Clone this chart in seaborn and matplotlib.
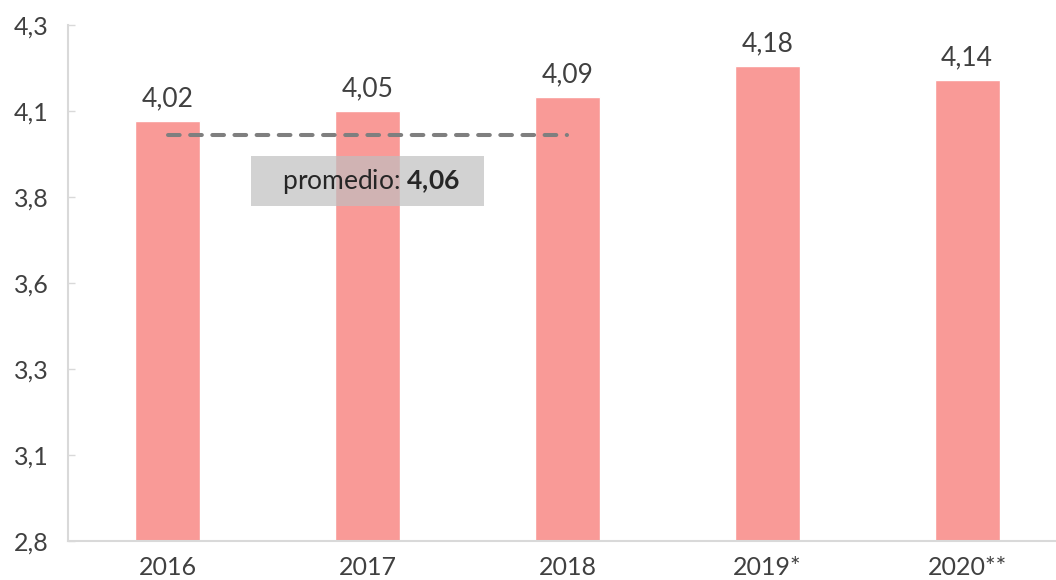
import numpy as np
import pandas as pd
import seaborn as sns
import matplotlib.pyplot as plt

# data
years = ["2016", "2017", "2018", "2019*", "2020**"]
values = [4.02, 4.05, 4.09, 4.18, 4.14]
value_labels = ["4,02", "4,05", "4,09", "4,18", "4,14"]
ytick_values = [2.8, 3.05, 3.3, 3.55, 3.8, 4.05, 4.3]
ytick_labels = ["2,8", "3,1", "3,3", "3,6", "3,8", "4,1", "4,3"]
avg_span = ["2016", "2018"]
avg_level = 3.98
avg_text = "4,06"

sns.set_theme(style="white")
plt.rcParams['font.family'] = ['Lato', 'DejaVu Sans']
plt.rcParams['mathtext.fontset'] = 'custom'
plt.rcParams['mathtext.rm'] = 'Lato'
plt.rcParams['mathtext.bf'] = 'Lato:bold'

text_color = "#404040"
bar_color = "#F99A97"
spine_color = "#d9d9d9"

df = pd.DataFrame({"year": years, "value": values})

fig = plt.figure(figsize=(10.56, 5.8), dpi=100)
ax = fig.add_axes([0.0644, 0.0672, 0.9356, 0.8898])

sns.barplot(data=df, x="year", y="value", color=bar_color, saturation=1,
            width=0.325, ax=ax)

ax.set_ylim(2.8, 4.3)
ax.set_xlim(-0.5, 4.445)
ax.set_yticks(ytick_values)
ax.set_yticklabels(ytick_labels)
ax.set_xlabel("")
ax.set_ylabel("")

# labels on top of bars
ax.bar_label(ax.containers[0], labels=value_labels, padding=7,
             fontsize=19, color=text_color)

# average line over the first three years
x0 = years.index(avg_span[0])
x1 = years.index(avg_span[1])
ax.plot([x0, x1], [avg_level, avg_level], color="#7f7f7f", lw=2.9,
        linestyle=(0, (2.9, 2.6)), dash_capstyle="round", zorder=4)
ax.text((x0 + x1) / 2, 3.846,
        "   promedio: $\\mathbf{" + avg_text.replace(",", "{,}") + "}$   ",
        ha="center", va="center", fontsize=19, color="#262626", zorder=5,
        bbox=dict(boxstyle="square,pad=0.4", fc="#bfbfbf", ec="none", alpha=0.7))

# styling
for side in ["top", "right"]:
    ax.spines[side].set_visible(False)
for side in ["left", "bottom"]:
    ax.spines[side].set_color(spine_color)
    ax.spines[side].set_linewidth(1.5)
ax.tick_params(axis="y", direction="in", length=5, width=1, color=spine_color,
               labelsize=18, labelcolor=text_color, pad=14, left=True)
ax.tick_params(axis="x", length=0, labelsize=18, labelcolor=text_color, pad=11)

plt.savefig("out.png", dpi=100)
